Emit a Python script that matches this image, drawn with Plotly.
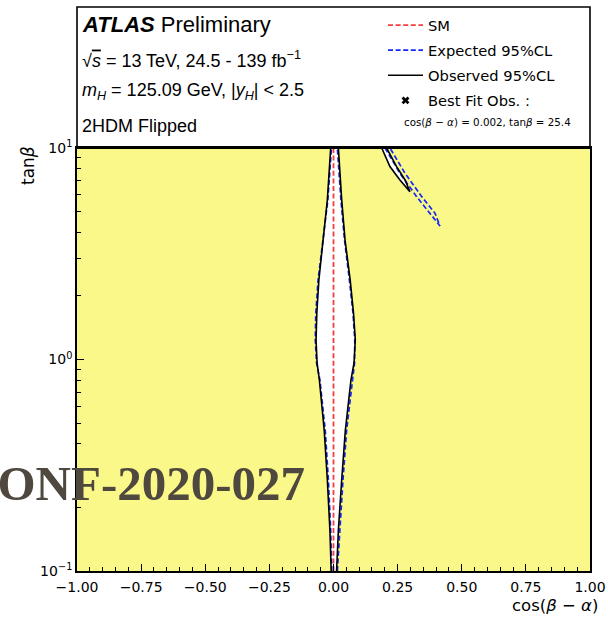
import plotly.graph_objects as go

# ---------------- data ----------------
tanb_c = [0.1, 0.156, 0.27, 0.46, 0.80, 0.963, 1.24, 1.66, 2.38, 3.67, 5.68, 10.0]
obs_left = [-0.009, -0.014, -0.024, -0.036, -0.055, -0.064, -0.068, -0.065, -0.057, -0.040, -0.024, -0.011]
obs_right = [0.012, 0.019, 0.032, 0.046, 0.068, 0.080, 0.085, 0.078, 0.065, 0.045, 0.032, 0.019]
exp_left = [-0.007, -0.011, -0.020, -0.032, -0.053, -0.066, -0.071, -0.069, -0.060, -0.041, -0.022, -0.008]
exp_right = [0.015, 0.024, 0.037, 0.051, 0.073, 0.082, 0.083, 0.076, 0.062, 0.043, 0.029, 0.015]

# upper-right island (closed outline: left edge top->tip, right edge tip->top)
obs2_cos = [0.188, 0.220, 0.259, 0.292, 0.298, 0.279, 0.246, 0.207]
obs2_tanb = [10.0, 8.17, 7.06, 6.32, 6.21, 7.06, 8.17, 10.0]
exp2_cos = [0.201, 0.259, 0.324, 0.376, 0.415, 0.396, 0.344, 0.279, 0.220]
exp2_tanb = [10.0, 7.59, 5.89, 4.91, 4.28, 4.91, 5.89, 7.59, 10.0]

sm_cos = [0.0, 0.0]
sm_tanb = [0.1, 10.0]

best_cos = [0.002]
best_tanb = [25.4]

x_ticks = [-1.0, -0.75, -0.5, -0.25, 0.0, 0.25, 0.5, 0.75, 1.0]
y_ticks = [0.1, 1.0, 10.0]
y_ticktext = ["10<sup>\u22121</sup>", "10<sup>0</sup>", "10<sup>1</sup>"]
y_minor = [0.2, 0.3, 0.4, 0.5, 0.6, 0.7, 0.8, 0.9, 2, 3, 4, 5, 6, 7, 8, 9]

YELLOW = "rgb(251,248,138)"
RED = "rgb(246,62,62)"
BLUE = "rgb(20,40,245)"
DASH = "5px,2.6px"

fig = go.Figure()

# white (allowed) regions
fig.add_trace(go.Scatter(x=obs_left + obs_right[::-1], y=tanb_c + tanb_c[::-1],
                         fill="toself", fillcolor="white", mode="lines",
                         line=dict(width=0), showlegend=False, hoverinfo="skip"))
fig.add_trace(go.Scatter(x=obs2_cos, y=obs2_tanb, fill="toself", fillcolor="white",
                         mode="lines", line=dict(width=0), showlegend=False, hoverinfo="skip"))

# SM
fig.add_trace(go.Scatter(x=sm_cos, y=sm_tanb, mode="lines", name="SM", legendgroup="a",
                         line=dict(color=RED, width=1.8, dash=DASH)))
# Expected
fig.add_trace(go.Scatter(x=exp_left + [None] + exp_right + [None] + exp2_cos,
                         y=tanb_c + [None] + tanb_c + [None] + exp2_tanb,
                         mode="lines", name="Expected 95%CL", legendgroup="b",
                         line=dict(color=BLUE, width=1.7, dash=DASH)))
# Observed
fig.add_trace(go.Scatter(x=obs_left + [None] + obs_right + [None] + obs2_cos,
                         y=tanb_c + [None] + tanb_c + [None] + obs2_tanb,
                         mode="lines", name="Observed 95%CL", legendgroup="c",
                         line=dict(color="black", width=1.6)))
# Best fit (lies above the displayed range, only visible in legend)
fig.add_trace(go.Scatter(x=best_cos, y=best_tanb, mode="markers", name="Best Fit Obs. :",
                         legendgroup="d", cliponaxis=True,
                         marker=dict(symbol="x", size=7, color="black")))

W, H = 608, 627
L, R, T, B = 77, 18, 7, 56
pw, ph = W - L - R, H - T - B


def px(xp):
    return (xp - L) / pw


def py(yp):
    return (H - B - yp) / ph


annos = []
hfont = "Liberation Sans, Arial, Helvetica, sans-serif"
dfont = "DejaVu Sans, sans-serif"
annos.append(dict(text="<b><i>ATLAS</i></b> Preliminary", x=px(80), y=py(24),
                  font=dict(family=hfont, size=22, color="black")))
annos.append(dict(text="\u221a<span style='text-decoration:overline'><i>s</i></span> = 13 TeV, 24.5 - 139 fb<sup>\u22121</sup>",
                  x=px(80), y=py(59), font=dict(family=hfont, size=18, color="black")))
annos.append(dict(text="<i>m</i><sub><i>H</i></sub> = 125.09 GeV, |<i>y</i><sub><i>H</i></sub>| &lt; 2.5",
                  x=px(80), y=py(91), font=dict(family=hfont, size=18, color="black")))
annos.append(dict(text="2HDM Flipped", x=px(80), y=py(126),
                  font=dict(family=hfont, size=18, color="black")))
for a in annos:
    a.update(xref="paper", yref="paper", xanchor="left", yanchor="middle", showarrow=False)

annos.append(dict(text="cos(<i>\u03b2</i> \u2212 <i>\u03b1</i>) = 0.002, tan<i>\u03b2</i> = 25.4",
                  x=px(487), y=py(122), xref="paper", yref="paper", xanchor="center",
                  yanchor="middle", showarrow=False,
                  font=dict(family=dfont, size=10.3, color="black")))
annos.append(dict(text="tan<i>\u03b2</i>", x=px(28), y=py(166), xref="paper", yref="paper",
                  xanchor="center", yanchor="middle", textangle=-90, showarrow=False,
                  font=dict(family=dfont, size=17, color="black")))
annos.append(dict(text="cos(<i>\u03b2</i> \u2212 <i>\u03b1</i>)", x=px(600), y=py(605),
                  xref="paper", yref="paper", xanchor="right", yanchor="middle",
                  showarrow=False, font=dict(family=dfont, size=16.5, color="black")))
annos.append(dict(text="ATLAS-CONF-2020-027", x=px(307), y=py(483), xref="paper",
                  yref="paper", xanchor="right", yanchor="middle", showarrow=False,
                  font=dict(family="Liberation Serif, serif", size=49, color="rgb(78,72,62)",
                            weight="bold")))

fig.update_layout(
    width=W, height=H,
    margin=dict(l=L, r=R, t=T, b=B, pad=0, autoexpand=False),
    paper_bgcolor="white",
    plot_bgcolor=YELLOW,
    showlegend=True,
    legend=dict(x=px(383), y=py(9), xanchor="left", yanchor="top",
                bgcolor="rgba(0,0,0,0)", borderwidth=0, tracegroupgap=3,
                font=dict(family=dfont, size=14.7, color="black"), itemwidth=35),
    annotations=annos,
    shapes=[dict(type="rect", xref="paper", yref="paper", x0=0, x1=1, y0=0.75, y1=1,
                 line=dict(color="black", width=1.6), fillcolor="rgba(0,0,0,0)"),
            dict(type="line", xref="paper", yref="paper", x0=0, x1=1, y0=0.75, y1=0.75,
                 line=dict(color="black", width=2.2))],
)

fig.update_xaxes(range=[-1, 1], tickvals=x_ticks, tickformat=".2f",
                 ticks="inside", ticklen=7, tickwidth=1, tickcolor="black",
                 showline=True, linecolor="black", linewidth=1.6, mirror=True,
                 showgrid=False, zeroline=False, ticklabelstandoff=2,
                 tickfont=dict(family=dfont, size=14, color="black"),
                 minor=dict(ticks="inside", dtick=0.05, tick0=0, ticklen=4,
                            tickcolor="black", showgrid=False))
fig.update_yaxes(type="log", range=[-1, 1], domain=[0, 0.75],
                 tickvals=y_ticks, ticktext=y_ticktext,
                 ticks="inside", ticklen=7, tickwidth=1, tickcolor="black",
                 showline=True, linecolor="black", linewidth=1.6, mirror=True,
                 showgrid=False, zeroline=False,
                 tickfont=dict(family=dfont, size=14, color="black"),
                 minor=dict(ticks="inside", tickvals=y_minor, ticklen=4,
                            tickcolor="black", showgrid=False))

fig.write_html("out.html")
